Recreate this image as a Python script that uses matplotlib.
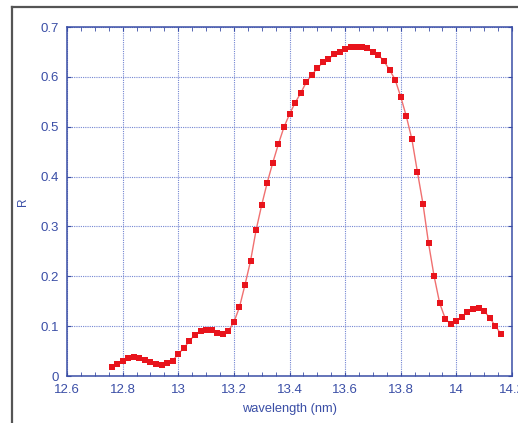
import matplotlib
matplotlib.use("Agg")
import matplotlib.pyplot as plt
from matplotlib.ticker import MultipleLocator, FuncFormatter
from matplotlib.lines import Line2D

wavelength = [12.76 + 0.02 * i for i in range(71)]
reflectance = [
    0.019, 0.024, 0.031, 0.036, 0.038, 0.036, 0.033, 0.029, 0.025, 0.023,
    0.026, 0.031, 0.044, 0.056, 0.070, 0.083, 0.090, 0.093, 0.092, 0.086,
    0.084, 0.090, 0.108, 0.138, 0.183, 0.231, 0.293,
    0.343, 0.388, 0.428, 0.465, 0.499, 0.525, 0.548, 0.567, 0.589, 0.604,
    0.617, 0.629, 0.636, 0.645, 0.650, 0.656, 0.659, 0.660, 0.659, 0.658,
    0.650, 0.644, 0.631, 0.614, 0.594, 0.560, 0.521, 0.475, 0.409, 0.345,
    0.266, 0.200, 0.146, 0.115, 0.104, 0.110, 0.118, 0.129, 0.134, 0.136,
    0.130, 0.117, 0.100, 0.085,
]
xticks = [12.6, 12.8, 13.0, 13.2, 13.4, 13.6, 13.8, 14.0, 14.2]
yticks = [0, 0.1, 0.2, 0.3, 0.4, 0.5, 0.6, 0.7]

blue = "#3a4ea6"
gridblue = "#7486d2"

plt.rcParams["font.family"] = ["Liberation Sans", "DejaVu Sans"]

fig = plt.figure(figsize=(5.18, 4.23), dpi=100)
fig.patch.set_facecolor("white")

# gray frame at top and left
fig.add_artist(Line2D([12/518, 12/518], [0, 1 - 7/423], transform=fig.transFigure,
                      color="#555555", lw=1.6))
fig.add_artist(Line2D([12/518, 1], [1 - 7/423, 1 - 7/423], transform=fig.transFigure,
                      color="#555555", lw=1.6))

ax = fig.add_axes([67/518, 47/423, 445/518, 349/423])
ax.plot(wavelength, reflectance, color="#f07070", lw=1.0, zorder=3)
ax.plot(wavelength, reflectance, linestyle="none", marker="s", markersize=4.6,
        color="#e8141c", markeredgewidth=0, zorder=4)

ax.set_xlim(12.6, 14.2)
ax.set_ylim(0, 0.7)
ax.set_xticks(xticks)
ax.set_yticks(yticks)
ax.xaxis.set_major_formatter(FuncFormatter(lambda v, p: "%g" % round(v, 2)))
ax.yaxis.set_major_formatter(FuncFormatter(lambda v, p: "%g" % round(v, 2)))
ax.xaxis.set_minor_locator(MultipleLocator(0.05))

for s in ax.spines.values():
    s.set_color(blue)
    s.set_linewidth(1.1)

ax.tick_params(axis="both", which="both", direction="in", colors=blue,
               labelcolor=blue, labelsize=9.5, top=True, right=True)
ax.tick_params(which="major", length=3)
ax.tick_params(axis="x", which="major", pad=6)
ax.tick_params(axis="y", which="major", pad=6)
ax.tick_params(which="minor", length=3)
ax.tick_params(axis="y", which="minor", left=False, right=False)

ax.grid(True, which="major", color=gridblue, linestyle=(0, (1, 1)), lw=0.8)
ax.set_axisbelow(True)

ax.set_xlabel("wavelength (nm)", color=blue, fontsize=9.3, labelpad=5)
ax.set_ylabel("R", color=blue, fontsize=8.5, labelpad=8)

fig.savefig("out.png", dpi=100)
